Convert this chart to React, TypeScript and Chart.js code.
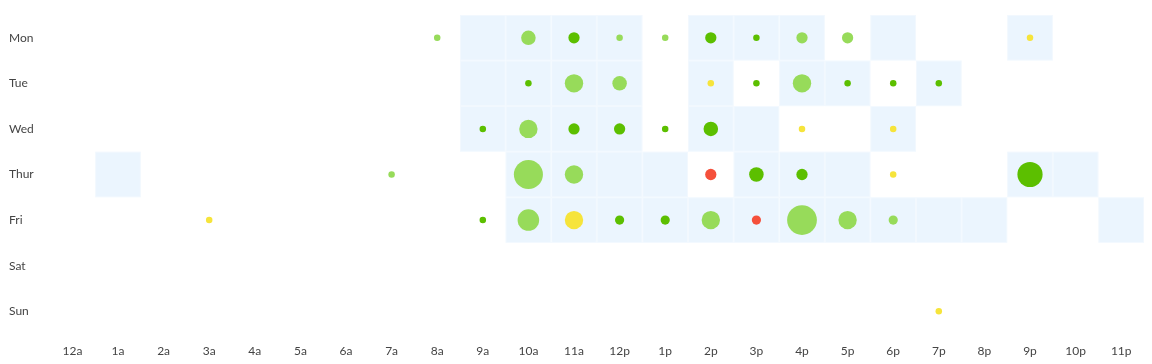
import React, { useEffect, useRef } from "react";
import { Chart, registerables } from "chart.js";

Chart.register(...registerables);

const days = ["Mon", "Tue", "Wed", "Thur", "Fri", "Sat", "Sun"];
const hours = [
  "12a", "1a", "2a", "3a", "4a", "5a", "6a", "7a", "8a", "9a", "10a", "11a",
  "12p", "1p", "2p", "3p", "4p", "5p", "6p", "7p", "8p", "9p", "10p", "11p",
];

// hour indices of shaded cells, per day
const cellsMon = [9, 10, 11, 12, 14, 15, 16, 18, 21];
const cellsTue = [9, 10, 11, 12, 14, 16, 17, 19];
const cellsWed = [9, 10, 11, 12, 14, 15, 18];
const cellsThur = [1, 10, 11, 12, 13, 15, 16, 17, 21, 22];
const cellsFri = [10, 11, 12, 13, 14, 15, 16, 17, 18, 19, 20, 23];
const cellsSat: number[] = [];
const cellsSun: number[] = [];

// punches per day: [hour, count, rating]  rating: d=good, l=ok, y=warn, r=bad
const punchMon: [number, number, string][] = [
  [8, 1, "l"], [10, 5, "l"], [11, 3, "d"], [12, 1, "l"], [13, 1, "l"],
  [14, 3, "d"], [15, 1, "d"], [16, 3, "l"], [17, 3, "l"], [21, 1, "y"],
];
const punchTue: [number, number, string][] = [
  [10, 1, "d"], [11, 8, "l"], [12, 5, "l"], [14, 1, "y"], [15, 1, "d"],
  [16, 8, "l"], [17, 1, "d"], [18, 1, "d"], [19, 1, "d"],
];
const punchWed: [number, number, string][] = [
  [9, 1, "d"], [10, 8, "l"], [11, 3, "d"], [12, 3, "d"], [13, 1, "d"],
  [14, 5, "d"], [16, 1, "y"], [18, 1, "y"],
];
const punchThur: [number, number, string][] = [
  [7, 1, "l"], [10, 20, "l"], [11, 8, "l"], [14, 3, "r"], [15, 5, "d"],
  [16, 3, "d"], [18, 1, "y"], [21, 15, "d"],
];
const punchFri: [number, number, string][] = [
  [3, 1, "y"], [9, 1, "d"], [10, 11, "l"], [11, 8, "y"], [12, 2, "d"],
  [13, 2, "d"], [14, 8, "l"], [15, 2, "r"], [16, 21, "l"], [17, 8, "l"],
  [18, 2, "l"],
];
const punchSat: [number, number, string][] = [];
const punchSun: [number, number, string][] = [[19, 1, "y"]];

const cellsByDay = [cellsMon, cellsTue, cellsWed, cellsThur, cellsFri, cellsSat, cellsSun];
const punchByDay = [punchMon, punchTue, punchWed, punchThur, punchFri, punchSat, punchSun];

const ratingColors: Record<string, string> = {
  d: "#5cbf00",
  l: "#97db5a",
  y: "#f6e43b",
  r: "#f5503b",
};

const cellPlugin = {
  id: "cells",
  beforeDatasetsDraw(chart: any) {
    const { ctx, scales } = chart;
    const xs = scales.x;
    const ys = scales.y;
    ctx.save();
    cellsByDay.forEach((cells, d) => {
      cells.forEach((h) => {
        const x0 = xs.getPixelForValue(h - 0.5);
        const x1 = xs.getPixelForValue(h + 0.5);
        const y0 = ys.getPixelForValue(d - 0.5);
        const y1 = ys.getPixelForValue(d + 0.5);
        ctx.fillStyle = "#ebf5fe";
        ctx.fillRect(x0, y0, x1 - x0, y1 - y0);
        ctx.strokeStyle = "rgba(255,255,255,0.35)";
        ctx.lineWidth = 1;
        ctx.strokeRect(x0 + 0.5, y0 + 0.5, x1 - x0 - 1, y1 - y0 - 1);
      });
    });
    ctx.restore();
  },
};

export default function App() {
  const ref = useRef<HTMLCanvasElement>(null);

  useEffect(() => {
    const points: any[] = [];
    const colors: string[] = [];
    punchByDay.forEach((list, d) => {
      list.forEach(([h, count, rating]) => {
        points.push({ x: h, y: d, r: 3.25 * Math.sqrt(count) });
        colors.push(ratingColors[rating]);
      });
    });

    const font = { family: "Lato, 'Open Sans', sans-serif", size: 12 };

    const chart = new Chart(ref.current!, {
      type: "bubble",
      data: {
        datasets: [
          {
            data: points,
            backgroundColor: colors,
            hoverBackgroundColor: colors,
            borderWidth: 0,
          },
        ],
      },
      plugins: [cellPlugin],
      options: {
        animation: false,
        responsive: false,
        layout: { autoPadding: false, padding: { left: 9, right: 8, top: 15, bottom: 0 } },
        plugins: { legend: { display: false }, tooltip: { enabled: false } },
        scales: {
          x: {
            type: "linear",
            min: -0.5,
            max: 23.5,
            grid: { display: false, drawTicks: false },
            border: { display: false },
            afterBuildTicks: (s: any) => {
              s.ticks = hours.map((_, i) => ({ value: i }));
            },
            afterFit: (s: any) => {
              s.height = 30;
              s.paddingLeft = 0;
              s.paddingRight = 0;
            },
            ticks: {
              autoSkip: false,
              maxRotation: 0,
              padding: 10,
              color: "#444",
              font,
              callback: (v: any) => hours[v as number] ?? "",
            },
          },
          y: {
            type: "linear",
            min: -0.5,
            max: 6.5,
            reverse: true,
            grid: { display: false, drawTicks: false },
            border: { display: false },
            afterBuildTicks: (s: any) => {
              s.ticks = days.map((_, i) => ({ value: i }));
            },
            afterFit: (s: any) => {
              s.width = 40.6;
              s.paddingTop = 0;
              s.paddingBottom = 0;
            },
            ticks: {
              crossAlign: "far",
              autoSkip: false,
              color: "#444",
              font,
              callback: (v: any) => days[v as number] ?? "",
            },
          },
        },
      },
    });
    return () => chart.destroy();
  }, []);

  return (
    <div style={{ position: "absolute", left: 0, top: 0, width: 1152, height: 364, overflow: "hidden" }}>
      <canvas ref={ref} width={1152} height={364} style={{ display: "block" }} />
    </div>
  );
}
